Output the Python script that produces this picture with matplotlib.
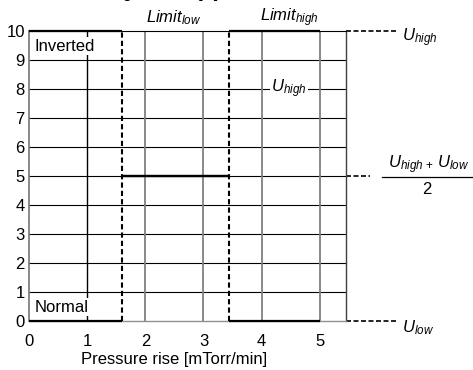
import matplotlib
matplotlib.use('Agg')
import matplotlib.pyplot as plt

plt.rcParams['font.family'] = ['Liberation Sans', 'DejaVu Sans']
plt.rcParams['mathtext.fontset'] = 'custom'
plt.rcParams['mathtext.rm'] = 'Liberation Sans'
plt.rcParams['mathtext.it'] = 'Liberation Sans:italic'

""" Data """

x_edges = [0, 1.6, 3.43, 5.0]          # segment boundaries [mTorr/min]
inverted = [10, 5, 10]                 # output per segment, inverted mode
normal = [0, 5, 0]                     # output per segment, normal mode
limits = [1.6, 3.43]                   # Limit_low, Limit_high
levels = [10, 5, 0]                    # U_high, mid, U_low
x_ticks = [0, 1, 2, 3, 4, 5]
y_ticks = list(range(0, 11))

FS = 12

fig = plt.figure(figsize=(4.73, 3.7), dpi=100)
ax = fig.add_axes([0.0613, 0.1324, 0.6702, 0.7838])
ax.set_xlim(0, 5.45)
ax.set_ylim(0, 10)

# grid
for y in y_ticks[1:-1]:
    ax.axhline(y, color='black', lw=0.8, zorder=1)
for x in x_ticks[1:]:
    ax.axvline(x, color='black' if x == 1 else '#808080', lw=1.0 if x == 1 else 1.3, zorder=1)

# frame
ax.spines['top'].set_color('black')
ax.spines['top'].set_linewidth(0.8)
ax.spines['right'].set_color('#404040')
ax.spines['right'].set_linewidth(1.0)
ax.spines['left'].set_color('#808080')
ax.spines['left'].set_linewidth(1.3)
ax.spines['bottom'].set_color('#909090')
ax.spines['bottom'].set_linewidth(1.0)

# output curves
for i in range(len(inverted)):
    ax.hlines(inverted[i], x_edges[i], x_edges[i+1], color='black', lw=1.6, zorder=3, clip_on=False)
    ax.hlines(normal[i], x_edges[i], x_edges[i+1], color='black', lw=1.6, zorder=3, clip_on=False)

# limits
for lim in limits:
    ax.axvline(lim, color='black', lw=1.5, ls=(0, (2.5, 1.5)), zorder=4)

ax.set_xticks(x_ticks)
ax.set_yticks(y_ticks)
ax.tick_params(axis='both', length=0, labelsize=FS)
ax.tick_params(axis='x', pad=9)
ax.tick_params(axis='y', pad=3)

ax.text(2.5, -1.33, 'Pressure rise [mTorr/min]', fontsize=FS, ha='center', va='center')

# labels inside
box = dict(facecolor='white', edgecolor='none', pad=1)
ax.text(0.1, 9.48, 'Inverted', fontsize=FS, ha='left', va='center', bbox=box, zorder=5)
ax.text(0.1, 0.48, 'Normal', fontsize=FS, ha='left', va='center', bbox=box, zorder=5)
ax.text(4.47, 8.0, r'$U_{high}$', fontsize=FS, ha='center', va='center', bbox=box, zorder=5)

ax.text(2.48, 10.45, r'$Limit_{low}$', fontsize=FS, ha='center', va='center')
ax.text(4.48, 10.45, r'$Limit_{high}$', fontsize=FS, ha='center', va='center')

# level markers to the right
ax.plot([5.45, 6.32], [levels[0], levels[0]], color='black', lw=1.2, ls=(0, (3, 1.5)), clip_on=False)
ax.plot([5.45, 5.86], [levels[1], levels[1]], color='black', lw=1.2, ls=(0, (3, 1.5)), clip_on=False)
ax.plot([5.45, 6.32], [levels[2], levels[2]], color='black', lw=1.2, ls=(0, (3, 1.5)), clip_on=False)

ax.text(6.41, 9.76, r'$U_{high}$', fontsize=FS, ha='left', va='center', clip_on=False)
ax.text(6.41, -0.24, r'$U_{low}$', fontsize=FS, ha='left', va='center', clip_on=False)
ax.text(6.87, 5.38, r'$U_{high\,+}\,U_{low}$', fontsize=FS, ha='center', va='center', clip_on=False)
ax.plot([6.07, 7.7], [4.97, 4.97], color='black', lw=0.9, clip_on=False)
ax.text(6.84, 4.55, r'$2$', fontsize=FS, ha='center', va='center', clip_on=False)

# axis title, mostly above the canvas
fig.text(0.345, 1.005, 'Signal level [V]', fontsize=FS, ha='center', va='baseline')

fig.savefig('out.png', dpi=100)
